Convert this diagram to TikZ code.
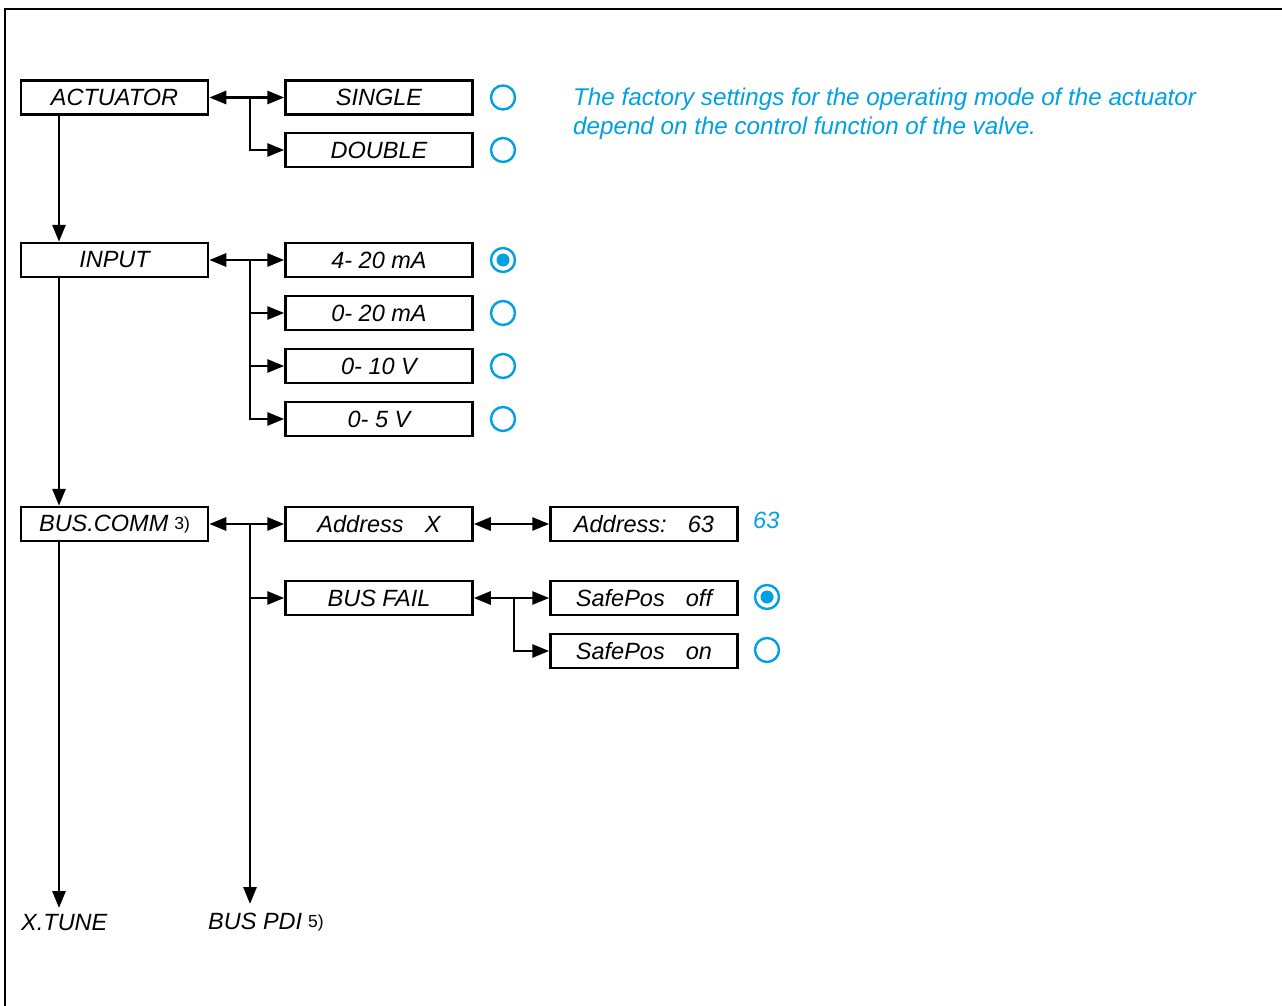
\documentclass[tikz,border=0pt]{standalone}
\usepackage{fontspec}
\setmainfont{Liberation Sans}
\usetikzlibrary{arrows.meta}
\definecolor{cyanb}{RGB}{0,160,227}
\begin{document}
\begin{tikzpicture}[x=1pt,y=-1pt,
  box/.style={draw,line width=2.5pt,minimum width=187pt,minimum height=34pt,inner sep=0pt,
    font=\fontsize{23.5}{26}\selectfont\itshape},
  tip/.tip={Triangle[length=17pt,width=13pt]},
  conn/.style={line width=2.9pt,arrows={-tip}},
  biconn/.style={line width=2.9pt,arrows={tip-tip}},
  radio/.style={draw=cyanb,line width=2.4pt,circle,minimum size=24pt,inner sep=0pt},
  radioon/.style={radio,path picture={\fill[cyanb] (path picture bounding box.center) circle (6.5pt);}},
  lbl/.style={font=\fontsize{23.5}{26}\selectfont\itshape,anchor=west,inner sep=0pt}]
\useasboundingbox (0,0) rectangle (1282,1006);
% frame
\draw[line width=2pt] (4,9) -- (1282,9);
\draw[line width=2pt] (5,9) -- (5,1006);

% left column
\node[box] (act) at (114.5,97.5) {ACTUATOR};
\node[box] (input) at (114.5,260) {INPUT};
\node[box] (bus) at (114.5,524) {BUS.COMM\hspace{6pt}\raisebox{2pt}{\fontsize{17.5}{17.5}\selectfont\upshape 3)}};

% second column
\node[box] (single) at (379,97.5) {SINGLE};
\node[box] (double) at (379,150) {DOUBLE};
\node[box] (i1) at (379,260) {4- 20 mA};
\node[box] (i2) at (379,313) {0- 20 mA};
\node[box] (i3) at (379,366) {0- 10 V};
\node[box] (i4) at (379,419) {0- 5 V};
\node[box] (addr) at (379,524) {Address\hspace{0.9em}X};
\node[box] (bf) at (379,598) {BUS FAIL};

% third column
\node[box] (a63) at (644,524) {Address:\hspace{0.9em}63};
\node[box] (spoff) at (644,598) {SafePos\hspace{0.9em}off};
\node[box] (spon) at (644,651) {SafePos\hspace{0.9em}on};

% radio buttons
\node[radio] (r1) at (503,97.5) {};
\node[radio] (r2) at (503,150) {};
\node[radioon] (r3) at (503,260) {};
\node[radio] (r4) at (503,313) {};
\node[radio] (r5) at (503,366) {};
\node[radio] (r6) at (503,419) {};
\node[radioon] (r7) at (767,597) {};
\node[radio] (r8) at (767,650) {};

% blue texts
\node[lbl,text=cyanb] (v63) at (753,520) {63};
\node[lbl,text=cyanb,align=left,font=\fontsize{24.2}{29}\selectfont\itshape,anchor=north west] (note) at (573,88)
  {The factory settings for the operating mode of the actuator\\depend on the control function of the valve.};

% bottom labels
\node[lbl] (xt) at (21,923) {X.TUNE};
\node[lbl] (pdi) at (208,922) {BUS PDI\hspace{6pt}\raisebox{2pt}{\fontsize{17.5}{17.5}\selectfont\upshape 5)}};

% guide coordinates
\coordinate (vx) at (59,0);
\coordinate (xtend) at (59,908);
\coordinate (pdiend) at (250,904);
\coordinate (b1) at (250,97.5);
\coordinate (b2) at (250,260);
\coordinate (b3) at (250,524);
\coordinate (b4) at (514,598);

% connectors: actuator
\draw[biconn] (act.east) -- (single.west);
\draw[conn] (b1) |- (double.west);
% input
\draw[biconn] (input.east) -- (i1.west);
\draw[conn] (b2) |- (i2.west);
\draw[conn] (b2) |- (i3.west);
\draw[conn] (b2) |- (i4.west);
% bus
\draw[biconn] (bus.east) -- (addr.west);
\draw[conn] (b3) |- (bf.west);
\draw[conn] (b3) -- (pdiend);
\draw[biconn] (addr.east) -- (a63.west);
\draw[biconn] (bf.east) -- (spoff.west);
\draw[conn] (b4) |- (spon.west);
% main vertical line
\draw[conn] (act.south -| vx) -- (input.north -| vx);
\draw[conn] (input.south -| vx) -- (bus.north -| vx);
\draw[conn] (bus.south -| vx) -- (xtend);
\end{tikzpicture}
\end{document}
